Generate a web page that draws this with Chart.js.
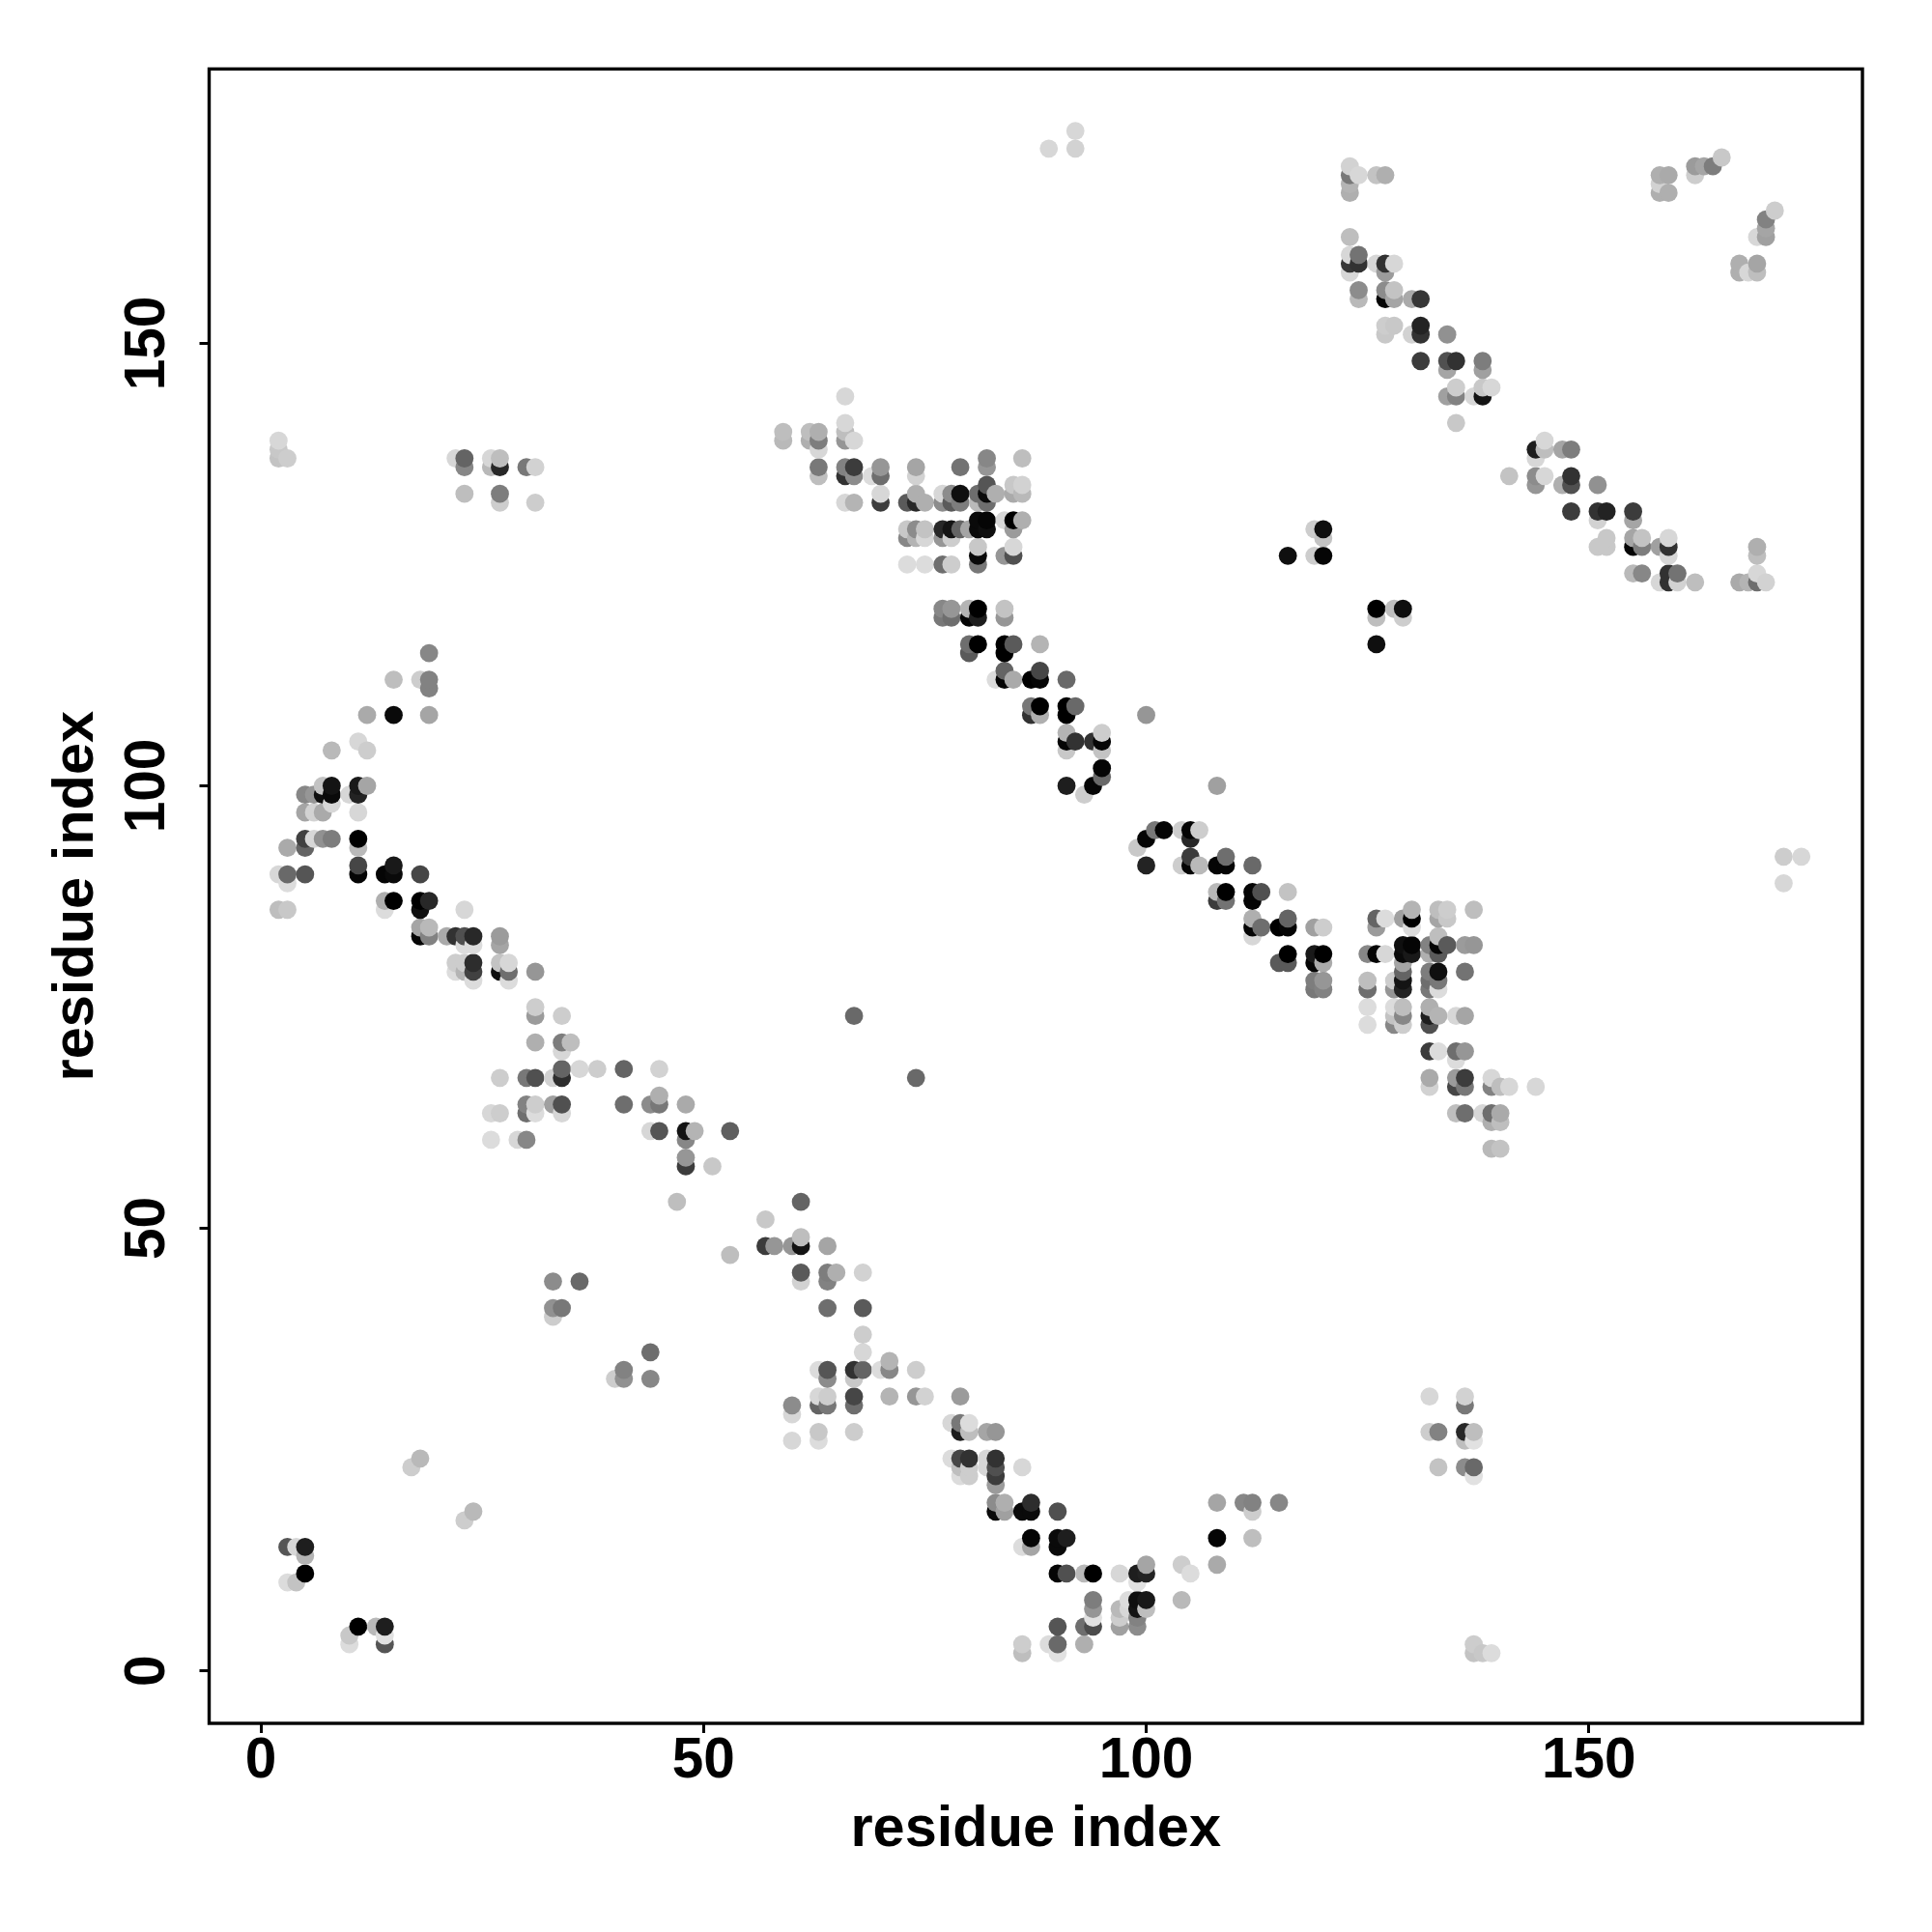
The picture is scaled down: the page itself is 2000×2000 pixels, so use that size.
<!DOCTYPE html>
<html>
<head>
<meta charset="utf-8">
<title>residue contact map</title>
<script src="https://cdn.jsdelivr.net/npm/chart.js@4"></script>
<style>
  html, body { margin: 0; padding: 0; background: #fff; overflow: hidden; }
  canvas { display: block; }
</style>
</head>
<body>
<canvas id="contactMap" width="2000" height="2000"></canvas>
<script>
// residue index on the x axis, one entry per column of points
const columnI = [2,3,4,5,6,7,8,10,11,12,13,14,15,17,18,19,21,22,23,24,26,27,28,29,30,31,33,34,35,36,38,40,41,44,45,47,48,49,51,53,57,58,59,60,61,62,63,64,65,66,67,68,69,70,71,73,74,75,77,78,79,80,81,82,83,84,85,86,87,88,89,90,91,92,93,94,95,97,98,99,100,101,102,104,105,106,108,109,111,112,113,115,116,119,120,123,124,125,126,127,128,129,130,131,132,133,134,135,136,137,138,139,140,141,144,145,147,148,151,152,155,156,158,159,160,162,163,164,165,167,168,169,170,171,172,174];

// residue index on the y axis for each column above
const columnJ = [
  [86,90,137,138,139],[10,14,86,89,90,93,137],[10,14],[11,13,14,90,93,94,97,99],[94,97,99],[94,97,99,100],[94,98,99,100,104],
  [3,4,99],[5,90,91,93,94,97,99,100,105],[100,104,108],[5],[3,4,5,86,87,90],[87,90,91,108,112],[23],
  [24,83,84,86,87,90,112],[83,84,87,108,111,112,115],[83],[79,80,83,137],[17,79,80,82,83,86,133,136,137],[18,78,79,80,82,83],
  [60,63,136,137],[63,67,79,80,82,83,132,133,136,137],[78,79,80],[60],[60,63,64,67,136],[63,64,67,71,74,75,79,132,136],
  [40,41,44,64,67],[41,63,64,67,68,70,71,74],[71],[44,68],[68],[33],[33,34,64,68],[33,36,61,64],[61,64,65,68],[53],
  [57,58,60,61,64],[61],[57],[47,61],[48,51],[48],[139,140],[26,29,30,48],[44,45,48,49,53],[139,140],
  [26,27,30,31,34,135,136,138,139,140],[30,31,33,34,41,44,45,48],[45],[132,135,136,139,140,141,144],
  [27,30,31,33,34,74,132,135,136,139],[34,36,38,41,45],[135],[34,132,133,135,136],[31,34,35],[125,128,129,132],
  [31,34,67,128,129,132,133,135,136],[31,125,128,129,132],[119,120,125,128,129,132,133],[24,28,119,120,125,128,129,132,133],
  [22,23,24,27,28,31,129,132,133,136],[22,23,24,27,28,115,116,119,120,129],[116,119,120,125,126,127,129,130,132,133],
  [23,24,27,129,130,132,133,134,136,137],[18,19,21,22,23,24,27,112,133],[18,19,112,113,115,116,119,120,126,130],
  [112,116,126,127,129,130,133,134],[2,3,14,18,23,130,133,134,137],[14,15,18,19,108,109,112],[108,109,112,113,116],[3,172],
  [2,3,5,11,14,15,18],[11,15,100,104,105,106,108,109,112],[105,109,172,174],[3,5,11,99],[5,6,7,8,11,100,105],
  [101,102,104,105,106],[5,6,7,11],[7,8],[5,6,7,8,10,11,93],[7,8,11,12,91,94,108],[95],[95],[8,12,91,95],[11,91,92,94,95],[91,95],
  [12,15,19,87,88,91,100],[87,88,91,92],[19],[15,18,19,83,84,85,87,88,91],[84,88],[19,80,84],[80,81,84,85,88,126],
  [77,78,80,81,84,126,129],[77,78,80,81,84,126,128,129],[158,159,160,162,167,168,169,170],[155,156,159,160,169],
  [73,75,77,78,81],[81,84,85,116,119,120,159,169],[81,85,151,152,155,156,158,159,169],[73,74,75,77,78,120,152,155,156,159],
  [73,74,75,77,78,79,80,81,82,85,119,120],[81,82,84,85,86,151,155],[148,151,152,155],
  [27,31,66,67,70,73,74,75,77,78,79,81,82],[23,27,70,74,77,78,79,81,82,83,85,86],[82,85,86,144,147,148,151],
  [63,66,67,69,70,74,141,144,145,148],[23,26,27,30,31,63,66,67,70,74,79,82],[2,3,22,23,26,27,82,86,144],
  [2,63,144,145,147,148],[2,59,62,63,66,67,145],[59,62,63,66],[66,135],[66,134,135,137,138],[135,138,139],[134,138],
  [131,134,135,138],[127,130,131,134],[127,128,131],[124,127,128,130,131],[124,127,128],[123,127,167,168,169],
  [123,124,126,127,128,167,169],[123,124],[123,169,170],[170],[170],[171],[123,158,159],[123,158],
  [123,124,126,127,158,159,162],[123,162,163,164],[165],[89,92],[92]
];

// grey level (0 black, 255 white) for each point in columnJ
const columnShade = [
  [190,215,195,200,215],[220,85,200,220,105,170,205],[195,215],[0,180,30,85,100,65,165,135],[215,210,150],[145,170,15,195],[125,215,10,20,185],
  [220,200,215],[0,5,70,185,0,215,35,25,215],[165,205,170],[185],[85,225,30,220,175,5],[0,10,25,10,190],[205],
  [185,5,165,15,0,70,205],[130,185,40,165,130,130,135],[170],[220,205,50,215],[205,180,205,220,80,215,190,135,100],[185,220,65,45,220,40],
  [220,215,185,215],[205,205,15,195,165,155,205,125,40,190],[220,110,215],[215],[135,110,130,120,120],[220,205,80,175,155,205,150,205,210],
  [205,145,140,160,210],[120,215,80,45,100,215,125,205],[190],[105,215],[205],[205],[145,130,110,100],[135,110,215,140],[85,120,175,210],[190],
  [60,150,135,20,170],[180],[200],[190,95],[60,200],[150],[185,190],[215,215,140,150],[210,90,20,190,100],[175,190],
  [220,200,100,215,220,190,120,215,125,175],[120,205,140,85,110,130,125,165],[175],[215,50,130,150,190,215,215],
  [205,110,70,200,50,105,180,140,60,215],[100,215,205,90,210],[220],[220,60,215,110,150],[180,135,180],[220,135,200,90],
  [150,205,105,180,140,40,175,210,165],[210,220,215,195,175],[120,135,110,150,40,140,215],[220,215,110,150,205,205,20,90,140],
  [220,190,70,30,120,155,100,125,15,115],[205,205,50,190,220,90,110,5,180,165],[0,30,0,120,10,200,10,10,185,110],
  [215,215,165,15,5,110,10,85,150,135],[10,140,155,60,80,50,150,220,175],[160,175,5,100,0,0,150,195,150,215],
  [170,90,80,215,155,0,170,200],[190,205,220,10,215,175,185,210,190],[165,5,10,45,50,120,0],[175,0,5,70,180],[220,215],
  [225,105,85,5,10,10,80],[80,30,30,200,5,180,0,0,105],[50,105,210,215],[175,110,185,205],[75,225,150,125,0,5,50],
  [105,5,195,5,205],[160,205,185,215],[215,220],[140,130,20,15,225,30,200],[190,25,35,165,35,5,150],[120],[5],[185,205,205,205],[220,5,60,40,5],[185,205],
  [170,5,165,60,185,5,160],[115,0,5,110],[135],[190,205,130,215,5,175,5,5,105],[110,80],[135,90,0],[90,0,5,100,195,15],
  [120,125,5,25,160,205,205],[130,150,170,0,205,5,195,15],[215,55,215,190,175,180,120,210],[185,140,50,115,215],
  [220,220,110,190,135],[5,155,100,15,190,0,215,195],[215,220,200,205,5,140,155,50,175],[135,195,220,150,205,190,200,165,195,215],
  [205,135,190,35,20,100,165,10,15,160,205,15],[25,5,220,0,180,210,170],[60,50,35,55],
  [205,215,210,170,60,80,30,175,120,110,125,175,130],[195,130,220,180,220,120,15,90,5,190,165,190],[90,200,205,160,165,80,145],
  [190,70,155,220,110,215,200,130,205,50],[140,190,40,120,210,110,120,60,150,165,115,155],[195,205,225,105,225,190,150,190,215],
  [200,215,20,200,160,125],[220,185,175,110,130,215,215],[195,190,170,190],[215,195],[215,150,140,215,30],[215,190,215],[175,165],
  [60,80,50,125],[200,210,50,145],[200,200,35],[185,5,165,165,60],[135,125,195],[215,160,175,210,175],
  [50,50,215,50,215,175,170],[210,115],[190,205,155],[165],[125],[200],[170,175,175],[180,215],
  [110,215,190,175,190,165,215],[210,160,165,130],[205],[215,205],[215]
];

const tickValues = [0, 50, 100, 150];
const axisLabel = 'residue index';

// points are drawn in this order so later columns sit on top, same as the plot
const residueI = columnI.flatMap((i, k) => columnJ[k].map(() => i));
const residueJ = columnJ.flat();
const shades = columnShade.flat().map(g => `rgb(${g}, ${g}, ${g})`);

const tickFont = { family: '"Liberation Sans", Arial, sans-serif', size: 58.5, weight: 'bold' };
const titleFont = { family: '"Liberation Sans", Arial, sans-serif', size: 59.5, weight: 'bold' };

// box round the plot area
const frame = {
  id: 'frame',
  afterDraw(chart) {
    const { ctx, chartArea: a } = chart;
    ctx.save();
    ctx.strokeStyle = '#000';
    ctx.lineWidth = 3.4;
    ctx.strokeRect(a.left, a.top, a.right - a.left, a.bottom - a.top);
    ctx.restore();
  }
};

function useTickValues(scale) {
  scale.ticks = tickValues.map(v => ({ value: v }));
}

new Chart(document.getElementById('contactMap'), {
  type: 'scatter',
  data: {
    datasets: [{
      data: residueI.map((x, k) => ({ x: x, y: residueJ[k] })),
      pointBackgroundColor: shades,
      pointBorderWidth: 0,
      pointRadius: 9.4,
      showLine: false
    }]
  },
  options: {
    responsive: false,
    animation: false,
    devicePixelRatio: 1,
    events: [],
    layout: { padding: { left: 0, top: 71.4, right: 72, bottom: 0 } },
    plugins: { legend: { display: false }, tooltip: { enabled: false } },
    scales: {
      x: {
        type: 'linear',
        min: -5.84,
        max: 180.9,
        afterBuildTicks: useTickValues,
        afterFit(scale) { scale.height = 216; },
        border: { display: false },
        grid: { drawOnChartArea: false, tickLength: 10, tickWidth: 3, tickColor: '#000' },
        ticks: { color: '#000', font: tickFont, padding: -5, autoSkip: false, maxRotation: 0 },
        title: { display: true, text: axisLabel, color: '#000', font: titleFont, padding: { top: 0, bottom: 69.5 } }
      },
      y: {
        type: 'linear',
        min: -5.93,
        max: 181,
        afterBuildTicks: useTickValues,
        afterFit(scale) { scale.width = 216.5; },
        border: { display: false },
        grid: { drawOnChartArea: false, tickLength: 10, tickWidth: 3, tickColor: '#000' },
        ticks: { color: '#000', font: tickFont, padding: 4, autoSkip: false, minRotation: 90, maxRotation: 90, crossAlign: 'center' },
        title: { display: true, text: axisLabel, color: '#000', font: titleFont, padding: { top: 44, bottom: 0 } }
      }
    }
  },
  plugins: [frame]
});
</script>
</body>
</html>
